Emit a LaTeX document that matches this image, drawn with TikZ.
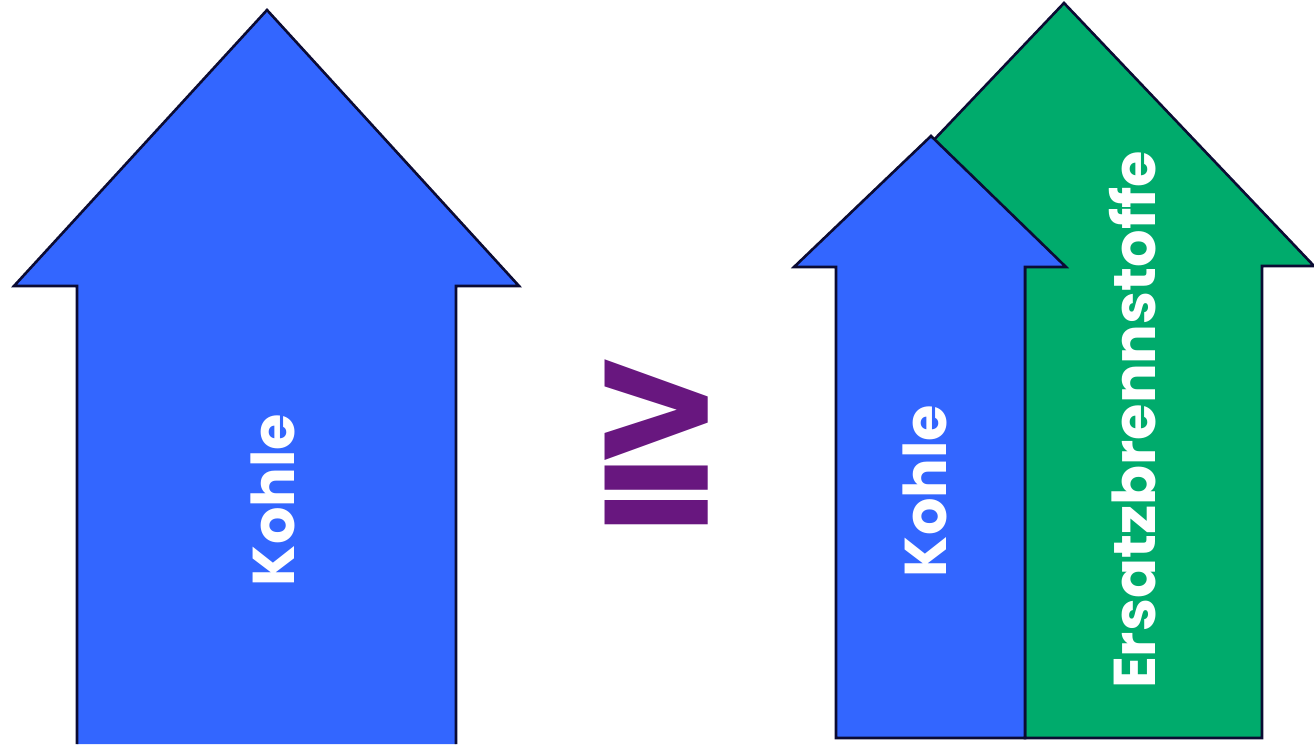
\documentclass[tikz,border=0pt]{standalone}
\usepackage{fontspec}
\newfontfamily\popfont{Poppins}
\newfontfamily\dejafont{DejaVu Sans}
\definecolor{kohleblue}{HTML}{3366FF}
\definecolor{ersatzgreen}{HTML}{00AB6C}
\definecolor{geqpurple}{HTML}{68177F}
\definecolor{edgenavy}{HTML}{0B0B33}
\tikzset{
  arrowshape/.style={draw=edgenavy, line width=2.6pt, line join=miter},
  lbl/.style={text=white, font=\popfont\bfseries\fontsize{59}{59}\selectfont, rotate=90, inner sep=0pt},
}
\begin{document}
\begin{tikzpicture}[x=1pt,y=-1pt]
\useasboundingbox (0,0) rectangle (1314,744);
% left arrow
\fill[kohleblue] (267,10) -- (519,286) -- (456,286) -- (456,744) -- (77,744) -- (77,286) -- (14,286) -- cycle;
\draw[arrowshape] (77,744) -- (77,286) -- (14,286) -- (267,10) -- (519,286) -- (456,286) -- (456,744);
% green arrow
\filldraw[arrowshape, fill=ersatzgreen] (1064,3) -- (1314,266) -- (1262,266) -- (1262,738) -- (1025,738) -- (1025,266) -- (814,266) -- cycle;
% blue arrow right
\filldraw[arrowshape, fill=kohleblue] (931,136) -- (1066,267) -- (1025,267) -- (1025,738) -- (836,738) -- (836,267) -- (794,267) -- cycle;
% labels
\node[lbl] (k1) at (273,500) {Kohle};
\node[lbl] (k2) at (925,491) {Kohle};
\node[lbl] (e) at (1133,420) {Ersatzbrennstoffe};
% geq
\node[text=geqpurple, inner sep=0pt] (g) at (656.5,442.5) {\resizebox*{138pt}{165pt}{\dejafont\bfseries ≧}};
\end{tikzpicture}
\end{document}
